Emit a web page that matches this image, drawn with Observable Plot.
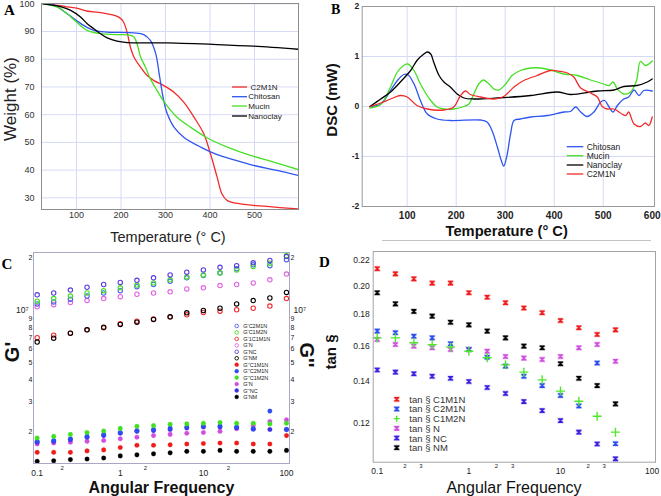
<!DOCTYPE html>
<html><head><meta charset="utf-8">
<script src="https://cdn.jsdelivr.net/npm/d3@7"></script>
<script src="https://cdn.jsdelivr.net/npm/@observablehq/plot@0.6"></script>
<style>
html,body{margin:0;padding:0;background:#fff;}
#root{position:relative;width:661px;height:496px;overflow:hidden;background:#fff;}
#root > svg{position:absolute;}
</style></head><body><div id="root"></div>
<script>
// ================= Panel A : TGA (Temperature °C, Weight %) =================
const tgaXTicks = [100, 200, 300, 400, 500];
const tgaYTicks = [30, 40, 50, 60, 70, 80, 90, 100];
const tgaC2M1N_T = [25, 50, 75, 100, 125, 150, 175, 195, 205, 214, 221, 229, 244, 259, 274, 296, 319, 341, 364, 386, 401, 416, 427, 439, 469, 528, 598];
const tgaC2M1N_W = [100, 99.6, 99.0, 98.4, 97.3, 96.9, 96.2, 95.2, 93.6, 89.5, 84.4, 80.8, 77.1, 74.1, 72.3, 70.5, 68.1, 64.5, 59.1, 53.1, 45.9, 37.5, 31.4, 29.0, 27.8, 26.9, 26.0];
const tgaChitosan_T = [25, 50, 79, 100, 116, 139, 169, 229, 251, 266, 278, 287, 296, 304, 319, 341, 379, 416, 454, 498, 551, 598];
const tgaChitosan_W = [100, 99.5, 96.4, 94.0, 92.2, 90.4, 89.8, 89.5, 88.9, 86.8, 82.0, 73.5, 65.1, 60.3, 55.5, 51.9, 48.3, 45.6, 43.7, 41.7, 39.9, 38.1];
const tgaMucin_T = [25, 57, 79, 100, 124, 154, 191, 221, 229, 236, 244, 255, 266, 281, 300, 326, 356, 394, 439, 491, 543, 598];
const tgaMucin_W = [100, 98.8, 96.4, 93.4, 90.4, 89.2, 88.9, 88.6, 88.0, 85.6, 80.8, 77.1, 72.9, 68.7, 63.9, 59.1, 55.5, 51.6, 48.3, 45.3, 42.9, 40.2];
const tgaNanoclay_T = [25, 64, 87, 109, 124, 139, 154, 169, 191, 214, 304, 416, 498, 598];
const tgaNanoclay_W = [100, 99.0, 97.6, 95.2, 92.8, 91.0, 89.2, 87.7, 86.5, 86.0, 85.9, 85.3, 84.7, 83.6];

// ================= Panel B : DSC (Temperature °C, mW) =================
const dscXTicks = [100, 200, 300, 400, 500, 600];
const dscYTicks = [-2, -1, 0, 1, 2];
const dscChitosan_T = [24, 46, 66, 80, 93, 101, 114, 127, 141, 161, 188, 250, 263, 273, 284, 292, 297, 303, 311, 318, 331, 352, 386, 420, 433, 444, 454, 467, 481, 495, 503, 512, 520, 529, 542, 552, 563, 573, 583, 600];
const dscChitosan_V = [0, 0.05, 0.32, 0.52, 0.64, 0.64, 0.45, 0.12, -0.15, -0.25, -0.28, -0.27, -0.31, -0.48, -0.81, -1.08, -1.19, -1.01, -0.55, -0.28, -0.25, -0.21, -0.18, -0.11, -0.10, -0.01, -0.11, -0.20, -0.11, 0.09, 0.12, -0.01, -0.11, 0.02, 0.15, 0.19, 0.33, 0.22, 0.32, 0.31];
const dscMucin_T = [24, 46, 66, 80, 93, 101, 114, 127, 148, 161, 175, 195, 216, 226, 236, 246, 256, 267, 277, 287, 301, 314, 331, 352, 372, 393, 420, 447, 474, 501, 512, 520, 529, 542, 556, 568, 576, 586, 593, 600];
const dscMucin_V = [-0.03, 0.04, 0.39, 0.69, 0.82, 0.85, 0.72, 0.45, 0.12, -0.01, -0.05, -0.05, 0, 0.05, 0.25, 0.45, 0.53, 0.45, 0.35, 0.33, 0.45, 0.62, 0.72, 0.77, 0.77, 0.73, 0.65, 0.62, 0.53, 0.45, 0.42, 0.49, 0.35, 0.25, 0.29, 0.52, 0.90, 0.82, 0.85, 0.91];
const dscNanoclay_T = [24, 46, 66, 86, 107, 120, 134, 141, 148, 154, 165, 175, 188, 202, 216, 236, 284, 352, 406, 433, 488, 522, 542, 569, 590, 600];
const dscNanoclay_V = [0, 0.15, 0.29, 0.49, 0.72, 0.92, 1.05, 1.09, 1.05, 0.89, 0.62, 0.49, 0.39, 0.25, 0.17, 0.15, 0.17, 0.22, 0.29, 0.24, 0.31, 0.33, 0.40, 0.42, 0.49, 0.55];
const dscC2M1N_T = [24, 46, 66, 86, 100, 120, 141, 175, 195, 209, 219, 229, 250, 277, 297, 318, 338, 365, 393, 413, 427, 440, 454, 474, 488, 498, 508, 522, 535, 546, 552, 563, 576, 586, 593, 600];
const dscC2M1N_V = [0, 0.07, 0.15, 0.22, 0.19, 0.02, -0.05, -0.07, -0.01, 0.22, 0.31, 0.24, 0.19, 0.15, 0.20, 0.39, 0.52, 0.62, 0.72, 0.70, 0.67, 0.59, 0.37, 0.27, 0.19, 0, -0.05, -0.05, -0.13, -0.18, -0.11, -0.35, -0.40, -0.33, -0.38, -0.21];

// ================= Panel C : G' / G'' (Pa, in units of 10^6) =================
const freqC = [0.1, 0.158, 0.251, 0.398, 0.631, 1, 1.585, 2.512, 3.981, 6.31, 10, 15.85, 25.12, 39.81, 63.1, 100];
const gpC2M1N  = [10.9, 11.2, 11.6, 12.1, 12.6, 13.0, 13.7, 14.1, 14.7, 15.4, 15.9, 16.4, 17.4, 18.3, 18.1, 19.6];
const gpC1M2N  = [11.3, 11.7, 12.1, 12.6, 13.0, 13.5, 14.0, 14.4, 15.0, 15.6, 16.0, 16.5, 17.1, 17.9, 18.7, 20.7];
const gp1C1M1N = [6.97, 7.21, 7.41, 7.74, 7.95, 8.38, 8.68, 8.92, 9.16, 9.44, 9.74, 9.91, 10.1, 10.3, 10.6, 11.7];
const gpN      = [10.5, 10.8, 11.1, 11.4, 11.7, 12.0, 12.4, 12.6, 12.8, 13.3, 13.5, 13.9, 14.1, 14.4, 15.0, 16.2];
const gpNC     = [12.3, 12.6, 13.1, 13.6, 14.1, 14.5, 14.9, 15.4, 16.0, 16.6, 17.1, 17.7, 18.1, 18.8, 19.4, 20.4];
const gpNM     = [6.58, 6.93, 7.41, 7.74, 8.02, 8.31, 8.57, 8.88, 9.20, 9.70, 10.0, 10.3, 10.9, 11.4, 11.8, 12.7];
const gppC1M1N = [1.53, 1.53, 1.53, 1.56, 1.58, 1.63, 1.68, 1.68, 1.69, 1.71, 1.72, 1.73, 1.73, 1.71, 1.71, 1.91];
const gppC2M1N = [1.77, 1.79, 1.83, 1.89, 1.94, 1.99, 2.04, 2.07, 2.11, 2.14, 2.16, 2.17, 2.14, 2.09, 2.64, 2.07];
const gppC1M2N = [1.85, 1.89, 1.94, 1.99, 2.03, 2.10, 2.16, 2.18, 2.22, 2.23, 2.25, 2.27, 2.25, 2.25, 2.23, 2.25];
const gppN     = [1.71, 1.73, 1.75, 1.77, 1.79, 1.83, 1.87, 1.91, 1.94, 1.97, 1.99, 2.02, 2.09, 2.18, 2.30, 2.35];
const gppNC    = [1.75, 1.77, 1.81, 1.87, 1.91, 1.97, 2.02, 2.04, 2.07, 2.11, 2.14, 2.14, 2.12, 2.08, 2.07, 2.07];
const gppNM    = [1.36, 1.37, 1.39, 1.40, 1.42, 1.46, 1.48, 1.50, 1.52, 1.55, 1.55, 1.57, 1.55, 1.55, 1.55, 1.57];
const cYTicks = [2, 3, 4, 5, 6, 7, 8, 9, 20];
const cYMain = [10];
const cLegend = ["G'C2M1N", "G'C1M2N", "G'1C1M1N", "G'N", "G'NC", "G'NM", "G''C1M1N", "G''C2M1N", "G''C1M2N", "G'N", "G''NC", "G'NM"];

// ================= Panel D : tan δ =================
const freqD = [0.1, 0.158, 0.251, 0.398, 0.631, 1, 1.585, 2.512, 3.981, 6.31, 10, 15.85, 25.12, 39.81];
const tdC1M1N = [0.2133, 0.2093, 0.2054, 0.2022, 0.2022, 0.1950, 0.1918, 0.1879, 0.1842, 0.1810, 0.1758, 0.1711, 0.1669, 0.1698];
const tdC2M1N = [0.1690, 0.1680, 0.1658, 0.1648, 0.1612, 0.1578, 0.1533, 0.1483, 0.1428, 0.1379, 0.1329, 0.1278, 0.1500, 0.1110];
const tdC1M2N = [0.1648, 0.1648, 0.1618, 0.1606, 0.1592, 0.1568, 0.1530, 0.1490, 0.1450, 0.1409, 0.1351, 0.1301, 0.1230, 0.1159];
const tdN     = [0.1638, 0.1608, 0.1598, 0.1588, 0.1578, 0.1578, 0.1568, 0.1537, 0.1528, 0.1520, 0.1537, 0.1588, 0.1608, 0.1510];
const tdNC    = [0.1462, 0.1450, 0.1441, 0.1428, 0.1417, 0.1400, 0.1369, 0.1339, 0.1299, 0.1256, 0.1210, 0.1159, 0.1109, 0.1049];
const tdNM    = [0.1950, 0.1871, 0.1819, 0.1787, 0.1747, 0.1730, 0.1690, 0.1648, 0.1598, 0.1588, 0.1496, 0.1417, 0.1379, 0.1288];
const dYTicks = [0.12, 0.14, 0.16, 0.18, 0.20, 0.22];
const dLegend = ["tan § C1M1N", "tan § C2M1N", "tan § C1M2N", "tan § N", "tan § NC", "tan § NM"];

// ---------------------------------------------------------------------------
const SANS = "'Liberation Sans', Arial, Helvetica, sans-serif";
const SERIF = "'Liberation Serif', 'Times New Roman', serif";
const RED = "#f22a2a", BLUE = "#2f55f0", GREEN = "#45e024", BLACK = "#000";
const root = document.getElementById("root");
function place(node, left, top) { node.style.left = left + "px"; node.style.top = top + "px"; root.appendChild(node); }
const zip = (xs, ys, kx, ky) => xs.map((x, i) => ({[kx]: x, [ky]: ys[i]}));
const baseStyle = {fontFamily: SANS, background: "transparent", color: "#222", overflow: "visible"};

// ---------- A ----------
const tgaLines = [[tgaC2M1N_T, tgaC2M1N_W, RED], [tgaChitosan_T, tgaChitosan_W, BLUE], [tgaMucin_T, tgaMucin_W, GREEN], [tgaNanoclay_T, tgaNanoclay_W, BLACK]];
const plotA = Plot.plot({
  width: 330, height: 250, marginLeft: 41, marginRight: 32, marginTop: 3, marginBottom: 41,
  style: baseStyle,
  x: {domain: [21.3, 598.9]}, y: {domain: [25.8, 100.1]},
  marks: [
    Plot.gridX(tgaXTicks, {stroke: "#d6daf4", strokeOpacity: 1}),
    Plot.gridY(tgaYTicks, {stroke: "#d6daf4", strokeOpacity: 1}),
    ...tgaLines.map(([t, w, c]) => Plot.line(zip(t, w, "T", "W"), {x: "T", y: "W", stroke: c, strokeWidth: 1.3, curve: "catmull-rom", clip: true})),
    Plot.frame({stroke: "#8c8c8c"}),
    Plot.axisX({ticks: tgaXTicks, tickSize: 0, tickPadding: 2, fontSize: 9, label: null, fill: "#333"}),
    Plot.axisY({ticks: tgaYTicks, tickSize: 0, tickPadding: 7, fontSize: 9, label: null, fill: "#333"})
  ]
});
place(plotA, 0, 0);

// ---------- B ----------
const dscLines = [[dscChitosan_T, dscChitosan_V, BLUE], [dscMucin_T, dscMucin_V, GREEN], [dscNanoclay_T, dscNanoclay_V, BLACK], [dscC2M1N_T, dscC2M1N_V, RED]];
const plotB = Plot.plot({
  width: 331, height: 250, marginLeft: 31.7, marginRight: 7, marginTop: 6, marginBottom: 44,
  style: baseStyle,
  x: {domain: [8.2, 604.7]}, y: {domain: [-2, 2]},
  marks: [
    Plot.gridX([100, 200, 300, 400, 500], {stroke: "#d6daf4", strokeOpacity: 1}),
    Plot.gridY([-1, 0, 1], {stroke: "#d6daf4", strokeOpacity: 1}),
    ...dscLines.map(([t, v, c]) => Plot.line(zip(t, v, "T", "V"), {x: "T", y: "V", stroke: c, strokeWidth: 1.3, curve: "catmull-rom", clip: true})),
    Plot.frame({stroke: "#9a9a9a"}),
    Plot.axisX({ticks: dscXTicks, tickSize: 0, tickPadding: 5, fontSize: 10, fontWeight: "bold", label: null, tickFormat: d => String(d)}),
    Plot.axisY({ticks: dscYTicks, tickSize: 0, tickPadding: 3, fontSize: 8.5, fontWeight: "bold", label: null, tickFormat: d => String(d)})
  ]
});
place(plotB, 330, 0);

// ---------- C ----------
const COLS = {
  C2M1N: "#4d62ee", C1M2N: "#3fe01e", C1M1N: "#f02a2a", N: "#e063e3", NC: "#5a3ee0", NM: "#000",
  pC2M1N: "#2d4cf2", pC1M2N: "#3fe01e", pC1M1N: "#f01c1c", pN: "#cf4ee0", pNC: "#3e2ee6", pNM: "#000"
};
const openSeries = [[gpN, COLS.N], [gp1C1M1N, COLS.C1M1N], [gpNM, COLS.NM], [gpC2M1N, COLS.C2M1N], [gpC1M2N, COLS.C1M2N], [gpNC, COLS.NC]];
const fillSeries = [[gppNM, COLS.pNM], [gppC1M1N, COLS.pC1M1N], [gppN, COLS.pN], [gppNC, COLS.pNC], [gppC2M1N, COLS.pC2M1N], [gppC1M2N, COLS.pC1M2N]];
const majorC = [0.1, 1, 10, 100];
const minorC = [0.2, 0.4, 0.6, 0.8, 2, 4, 6, 8, 20, 40, 60, 80];
const firstDigit = d => String(Math.round(d / Math.pow(10, Math.floor(Math.log10(d) + 1e-9))));
const plotC = Plot.plot({
  width: 330, height: 246, marginLeft: 33, marginRight: 41, marginTop: 2, marginBottom: 33,
  style: baseStyle,
  x: {type: "log", domain: [0.0903, 108.7]}, y: {type: "log", domain: [1.32, 21.54]},
  marks: [
    ...fillSeries.map(([v, c]) => Plot.dot(zip(freqC, v, "f", "g"), {x: "f", y: "g", r: 2.3, fill: c, stroke: c, strokeOpacity: 0.3, strokeWidth: 0.8})),
    ...openSeries.map(([v, c]) => Plot.dot(zip(freqC, v, "f", "g"), {x: "f", y: "g", r: 2.2, stroke: c, fill: "none", strokeWidth: 1.1})),
    Plot.frame({stroke: "#a8a8c4"}),
    Plot.axisX({ticks: majorC, tickSize: 0, tickPadding: 6.5, fontSize: 8.5, label: null, tickFormat: d => String(d)}),
    Plot.axisX({ticks: minorC, tickSize: 0, tickPadding: 2.5, fontSize: 6, label: null, tickFormat: firstDigit}),
    Plot.axisY({ticks: cYTicks, tickSize: 0, tickPadding: 1, fontSize: 7, label: null, tickFormat: d => String(d >= 20 ? d / 10 : d)}),
    Plot.axisY({ticks: cYMain, tickSize: 0, tickPadding: 5, fontSize: 8.5, label: null, tickFormat: () => "10⁷"}),
    Plot.axisY({anchor: "right", ticks: cYTicks, tickSize: 0, tickPadding: 1, fontSize: 7, label: null, tickFormat: d => String(d >= 20 ? d / 10 : d)}),
    Plot.axisY({anchor: "right", ticks: cYMain, tickSize: 0, tickPadding: 4, fontSize: 8.5, label: null, tickFormat: () => "10⁷"})
  ]
});
place(plotC, 0, 250);

// ---------- D ----------
const ibeam = {
  draw(ctx, size) {
    const r = Math.sqrt(size / Math.PI);
    const w = r * 1.08, h = r, t = r * 0.45, n = r * 0.28;
    ctx.moveTo(-w, -h); ctx.lineTo(w, -h); ctx.lineTo(w, -h + t); ctx.lineTo(n, 0);
    ctx.lineTo(w, h - t); ctx.lineTo(w, h); ctx.lineTo(-w, h); ctx.lineTo(-w, h - t);
    ctx.lineTo(-n, 0); ctx.lineTo(-w, -h + t); ctx.closePath();
  }
};
const DCOL = {C1M1N: "#f01c1c", C2M1N: "#2b4cf0", C1M2N: "#4ee82a", N: "#cf4ee0", NC: "#3a22e0", NM: "#000"};
const dSeries = [[tdC1M1N, DCOL.C1M1N, ibeam], [tdNM, DCOL.NM, ibeam], [tdN, DCOL.N, ibeam], [tdNC, DCOL.NC, ibeam], [tdC2M1N, DCOL.C2M1N, ibeam], [tdC1M2N, DCOL.C1M2N, "plus"]];
const majorD = [0.1, 1, 10, 100];
const minorD = [0.2, 0.3, 0.4, 0.5, 0.6, 0.7, 2, 3, 4, 5, 6, 7, 20, 30, 40, 50, 60, 70];
const plotD = Plot.plot({
  width: 331, height: 246, marginLeft: 42.7, marginRight: 6, marginTop: 1, marginBottom: 34.3,
  style: baseStyle,
  x: {type: "log", domain: [0.0904, 108.8]}, y: {type: "log", domain: [0.1036, 0.2275]},
  marks: [
    ...dSeries.map(([v, c, s]) => s === "plus"
      ? Plot.dot(zip(freqD, v, "f", "t"), {x: "f", y: "t", symbol: "plus", r: 3, stroke: c, strokeWidth: 1.4})
      : Plot.dot(zip(freqD, v, "f", "t"), {x: "f", y: "t", symbol: s, r: 2.3, fill: c, stroke: c, strokeOpacity: 0.3, strokeWidth: 1.2})),
    Plot.frame({stroke: "#a4a4a4"}),
    Plot.axisX({ticks: majorD, tickSize: 0, tickPadding: 6, fontSize: 8.5, label: null, tickFormat: d => String(d)}),
    Plot.axisX({ticks: minorD, tickSize: 0, tickPadding: 1.2, fontSize: 6, label: null, tickFormat: firstDigit}),
    Plot.axisY({ticks: dYTicks, tickSize: 0, tickPadding: 3.5, fontSize: 8.5, label: null, tickFormat: d3.format(".2f")})
  ]
});
place(plotD, 330, 250);

// ---------- overlay: panel letters, axis titles, legends ----------
const ov = d3.create("svg").attr("width", 661).attr("height", 496).style("left", "0px").style("top", "0px").style("pointer-events", "none");
function txt(s, x, y, o = {}) {
  const t = ov.append("text").attr("x", x).attr("y", y).text(s)
    .attr("font-family", o.family || SANS).attr("font-size", o.size || 9)
    .attr("font-weight", o.weight || "normal").attr("fill", o.fill || "#222")
    .attr("text-anchor", o.anchor || "start").attr("dominant-baseline", o.baseline || "central");
  if (o.rotate) t.attr("transform", `rotate(${o.rotate},${x},${y})`);
  return t;
}
// panel letters
txt("A", 4, 15, {family: SERIF, size: 15, weight: "bold", baseline: "alphabetic", fill: "#000"});
txt("B", 331, 13.5, {family: SERIF, size: 14, weight: "bold", baseline: "alphabetic", fill: "#000"});
txt("C", 1.5, 268.5, {family: SERIF, size: 15, weight: "bold", baseline: "alphabetic", fill: "#000"});
txt("D", 319, 267, {family: SERIF, size: 15, weight: "bold", baseline: "alphabetic", fill: "#000"});
// axis titles
txt("Weight (%)", 10, 99, {size: 17, anchor: "middle", rotate: -90});
txt("Temperature (° C)", 168, 237, {size: 14.5, anchor: "middle"});
txt("Temperature (° C)", 506.7, 231, {size: 14.7, weight: "bold", anchor: "middle", fill: "#111"});
txt("DSC (mW)", 331, 100, {size: 15, weight: "bold", anchor: "middle", rotate: -90, fill: "#111"});
txt("G'", 12, 352, {size: 20, weight: "bold", anchor: "middle", rotate: -90, fill: "#111"});
txt("G''", 306.5, 355, {size: 20, weight: "bold", anchor: "middle", rotate: 90, fill: "#111"});
txt("Angular Frequency", 161.5, 487, {size: 16, weight: "bold", anchor: "middle", fill: "#111"});
txt("tan §", 330, 352, {size: 15, weight: "bold", anchor: "middle", rotate: -90, fill: "#111"});
txt("Angular Frequency", 514, 487, {size: 16, anchor: "middle", fill: "#111"});
// separator rule under panel B
ov.append("line").attr("x1", 382).attr("x2", 651).attr("y1", 240.5).attr("y2", 240.5).attr("stroke", "#c4c4c4");
// legend A
const legA = [["C2M1N", RED, 87, 250.5], ["Chitosan", BLUE, 96.7, 248.3], ["Mucin", GREEN, 106, 248.3], ["Nanoclay", BLACK, 116, 248.3]];
legA.forEach(([s, c, y, tx]) => {
  ov.append("line").attr("x1", 232).attr("x2", 247).attr("y1", y).attr("y2", y).attr("stroke", c).attr("stroke-width", 1.3);
  txt(s, tx, y, {size: 8, fill: "#222"});
});
// legend B
const legB = [["Chitosan", BLUE, 146.7], ["Mucin", GREEN, 155.7], ["Nanoclay", BLACK, 165], ["C2M1N", RED, 174]];
legB.forEach(([s, c, y]) => {
  ov.append("line").attr("x1", 566.7).attr("x2", 583.3).attr("y1", y).attr("y2", y).attr("stroke", c).attr("stroke-width", 1.3);
  txt(s, 586.7, y, {size: 8.5, fill: "#222"});
});
// legend C
const legCColors = [COLS.C2M1N, COLS.C1M2N, COLS.C1M1N, COLS.N, COLS.NC, COLS.NM, COLS.pC1M1N, COLS.pC2M1N, COLS.pC1M2N, COLS.pN, COLS.pNC, COLS.pNM];
cLegend.forEach((s, i) => {
  const y = 326 + i * 6.45, filled = i >= 6, c = legCColors[i];
  ov.append("circle").attr("cx", 236.7).attr("cy", y).attr("r", filled ? 1.9 : 1.8)
    .attr("fill", filled ? c : "none").attr("stroke", c).attr("stroke-width", filled ? 0.5 : 0.9);
  txt(s, 243.3, y, {size: 5.5, fill: "#222"});
});
// legend D
const legDColors = [DCOL.C1M1N, DCOL.C2M1N, DCOL.C1M2N, DCOL.N, DCOL.NC, DCOL.NM];
dLegend.forEach((s, i) => {
  const y = 399.3 + i * 9.68, c = legDColors[i];
  if (i === 2) {
    ov.append("path").attr("d", "M-3,0H3M0,-3V3").attr("transform", `translate(396.7,${y})`).attr("fill", "none").attr("stroke", c).attr("stroke-width", 1.4);
  } else {
    ov.append("path").attr("d", d3.symbol(ibeam, Math.PI * 2.3 * 2.3)()).attr("transform", `translate(396.7,${y})`)
      .attr("fill", c).attr("stroke", c).attr("stroke-opacity", 0.3).attr("stroke-width", 1.2);
  }
  txt(s, 409.3, y, {size: 9.5, fill: "#333"});
});
root.appendChild(ov.node());
</script></body></html>
